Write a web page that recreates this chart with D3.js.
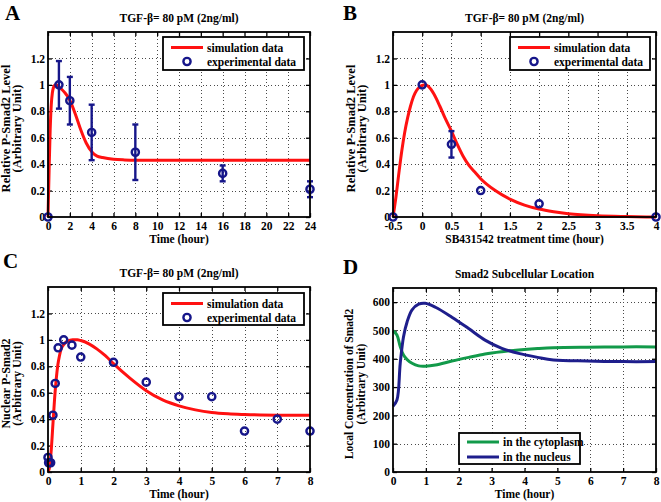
<!DOCTYPE html>
<html><head><meta charset="utf-8">
<script src="https://cdn.jsdelivr.net/npm/d3@7/dist/d3.min.js"></script>
<style>
html,body{margin:0;padding:0;background:#fff;}
svg{display:block;font-family:"Liberation Serif","Times New Roman",Times,serif;font-weight:bold;}
</style></head>
<body><svg id="chart" width="661" height="502"></svg>
<script>
// ---------- DATA ----------
// Panel A
const aSimTime  = [0,0.1,0.2,0.3,0.4,0.5,0.6,0.75,1,1.5,2,2.5,3,3.5,4,4.5,5,6,7,8,12,24];
const aSimValue = [0,0.35,0.66,0.85,0.94,0.98,0.995,1.0,0.985,0.945,0.885,0.78,0.66,0.56,0.495,0.46,0.45,0.437,0.432,0.43,0.43,0.43];
const aExpTime  = [0,1,2,4,8,16,24];
const aExpValue = [0,1.0,0.88,0.64,0.49,0.33,0.21];
const aExpLow   = [null,0.82,0.70,0.43,0.28,0.27,0.15];
const aExpHigh  = [null,1.18,1.06,0.85,0.70,0.39,0.27];
const aXTicks = [0,2,4,6,8,10,12,14,16,18,20,22,24];
const aYTicks = [0,0.2,0.4,0.6,0.8,1,1.2];
// Panel B
const bSimTime  = [-0.5,-0.45,-0.4,-0.35,-0.3,-0.25,-0.2,-0.15,-0.1,-0.05,0,0.05,0.1,0.15,0.2,0.3,0.4,0.5,0.6,0.7,0.8,0.9,1.0,1.25,1.5,1.75,2,2.25,2.5,3,3.5,4];
const bSimValue = [0,0.15,0.33,0.5,0.64,0.75,0.84,0.91,0.955,0.982,0.996,1.0,0.99,0.965,0.93,0.84,0.74,0.65,0.55,0.46,0.39,0.34,0.29,0.2,0.135,0.09,0.06,0.04,0.025,0.009,0.003,0];
const bExpTime  = [-0.5,0,0.5,1,2,4];
const bExpValue = [0,1.0,0.55,0.2,0.1,0];
const bExpLow   = [null,null,0.45,null,null,null];
const bExpHigh  = [null,null,0.65,null,null,null];
const bXTicks = [-0.5,0,0.5,1,1.5,2,2.5,3,3.5,4];
const bYTicks = [0,0.2,0.4,0.6,0.8,1,1.2];
// Panel C
const cSimTime  = [0,0.05,0.1,0.15,0.2,0.25,0.3,0.35,0.4,0.5,0.6,0.75,0.9,1.0,1.25,1.5,1.75,2,2.5,3,3.5,4,4.5,5,5.5,6,7,8];
const cSimValue = [0,0.04,0.17,0.36,0.55,0.70,0.81,0.88,0.93,0.97,0.99,1.0,1.0,0.995,0.97,0.93,0.88,0.82,0.71,0.615,0.545,0.5,0.47,0.45,0.44,0.435,0.43,0.43];
const cExpTime  = [0,0.02,0.08,0.15,0.22,0.31,0.48,0.73,1,2,3,4,5,6,7,8];
const cExpValue = [0.11,0.07,0.07,0.43,0.67,0.94,1.0,0.96,0.87,0.83,0.68,0.57,0.57,0.31,0.40,0.31];
const cXTicks = [0,1,2,3,4,5,6,7,8];
const cYTicks = [0,0.2,0.4,0.6,0.8,1,1.2];
// Panel D
const dTime      = [0,0.12,0.22,0.32,0.43,0.58,0.78,0.98,1.29,1.79,2.3,2.8,3.31,3.82,4.4,4.88,5.9,7,8];
const dNucleus   = [232,254,384,478,531,573,593,596,582,547,507,466,437,419,405,396,392,390,390];
const dCytoplasm = [499,484,443,413,397,384,375,374,378,392,405,417,425,431,436,439,441,442,442];
const dXTicks = [0,1,2,3,4,5,6,7,8];
const dYTicks = [0,100,200,300,400,500,600];

// ---------- STYLE ----------
const RED = "#ff1111", NAVY = "#16168a", GREEN = "#129a4a", LINEBLUE = "#1e1e8c";
const FONT = "'Liberation Serif','Times New Roman',Times,serif";
const svg = d3.select("#chart");

function zip(xs, ys){ return xs.map((x,i)=>[x, ys[i]]); }

function panel(cfg){
  const g = svg.append("g");
  const x = d3.scaleLinear().domain(cfg.xDomain).range([cfg.left, cfg.right]);
  const y = d3.scaleLinear().domain(cfg.yDomain).range([cfg.bottom, cfg.top]);
  const fmt = d => String(+d.toFixed(3));

  // grid
  const gridStyle = s => s.attr("stroke","#4a4a4a").attr("stroke-width",1).attr("stroke-dasharray","1,2.6").attr("shape-rendering","crispEdges");
  g.selectAll(".vg").data(cfg.xTicks.filter(t => x(t) > cfg.left+1 && x(t) < cfg.right-1)).join("line")
    .attr("x1", d=>Math.round(x(d))+0.5).attr("x2", d=>Math.round(x(d))+0.5).attr("y1", cfg.top).attr("y2", cfg.bottom).call(gridStyle);
  g.selectAll(".hg").data(cfg.yTicks.filter(t => y(t) < cfg.bottom-1 && y(t) > cfg.top+1)).join("line")
    .attr("y1", d=>Math.round(y(d))+0.5).attr("y2", d=>Math.round(y(d))+0.5).attr("x1", cfg.left).attr("x2", cfg.right).call(gridStyle);

  // axes (inward ticks, all four sides)
  const axStyle = a => { a.attr("font-family", FONT); a.select(".domain").remove(); a.selectAll("line").attr("stroke","#000").attr("stroke-width",1.3);
                         a.selectAll("text").attr("fill","#000").attr("font-size", 11.5).attr("font-weight","bold").attr("font-family", FONT); };
  g.append("g").attr("transform",`translate(0,${cfg.bottom})`)
    .call(d3.axisBottom(x).tickValues(cfg.xTicks).tickFormat(fmt).tickSize(-4).tickPadding(5)).call(axStyle);
  g.append("g").attr("transform",`translate(0,${cfg.top})`)
    .call(d3.axisTop(x).tickValues(cfg.xTicks).tickFormat("").tickSize(-4)).call(axStyle);
  g.append("g").attr("transform",`translate(${cfg.left},0)`)
    .call(d3.axisLeft(y).tickValues(cfg.yTicks).tickFormat(fmt).tickSize(-4).tickPadding(3)).call(axStyle);
  g.append("g").attr("transform",`translate(${cfg.right},0)`)
    .call(d3.axisRight(y).tickValues(cfg.yTicks).tickFormat("").tickSize(-4)).call(axStyle);

  (cfg.lines||[]).forEach(L => {
    const line = d3.line().x(d=>x(d[0])).y(d=>y(d[1])).curve(L.smooth ? d3.curveCatmullRom.alpha(0.5) : d3.curveMonotoneX);
    g.append("path").datum(zip(L.xs, L.ys)).attr("d", line).attr("fill","none")
      .attr("stroke", L.color).attr("stroke-width", 3).attr("stroke-linejoin","round");
  });

  if (cfg.exp){
    const E = cfg.exp;
    const pts = E.xs.map((t,i)=>({t, v:E.ys[i], lo:E.lo?E.lo[i]:null, hi:E.hi?E.hi[i]:null}));
    const eb = pts.filter(p => p.lo != null);
    const eg = g.append("g").attr("stroke", NAVY).attr("stroke-width", 2.4).attr("fill","none");
    eg.selectAll(".ebv").data(eb).join("line")
      .attr("x1", p=>x(p.t)).attr("x2", p=>x(p.t)).attr("y1", p=>y(p.lo)).attr("y2", p=>y(p.hi));
    eg.selectAll(".ebl").data(eb).join("line")
      .attr("x1", p=>x(p.t)-3).attr("x2", p=>x(p.t)+3).attr("y1", p=>y(p.lo)).attr("y2", p=>y(p.lo));
    eg.selectAll(".ebh").data(eb).join("line")
      .attr("x1", p=>x(p.t)-3).attr("x2", p=>x(p.t)+3).attr("y1", p=>y(p.hi)).attr("y2", p=>y(p.hi));
    g.append("g").selectAll("circle").data(pts).join("circle")
      .attr("cx", p=>x(p.t)).attr("cy", p=>y(p.v)).attr("r", 3.6)
      .attr("fill","none").attr("stroke", NAVY).attr("stroke-width", 2.4);
  }

  // frame
  g.append("rect").attr("x", cfg.left).attr("y", cfg.top).attr("width", cfg.right-cfg.left).attr("height", cfg.bottom-cfg.top)
    .attr("fill","none").attr("stroke","#000").attr("stroke-width",1.8);

  // title, labels
  g.append("text").attr("x", (cfg.left+cfg.right)/2).attr("y", cfg.top-10).attr("text-anchor","middle")
    .attr("font-size", 11.5).text(cfg.title);
  g.append("text").attr("x", (cfg.left+cfg.right)/2).attr("y", cfg.bottom+26).attr("text-anchor","middle")
    .attr("font-size", 11.5).text(cfg.xLabel);
  const cy = (cfg.top+cfg.bottom)/2 + 4;
  cfg.yLabel.forEach((s,i) => {
    const bx = cfg.left - cfg.yLabelOff[i];
    g.append("text").attr("transform", `translate(${bx},${cy}) rotate(-90)`).attr("text-anchor","middle")
      .attr("font-size", cfg.yLabelSize).text(s);
  });
  g.append("text").attr("x", cfg.letterPos[0]).attr("y", cfg.letterPos[1]).attr("font-size", 21).text(cfg.letter);

  // legend
  if (cfg.legend){
    const Lg = cfg.legend;
    const lg = g.append("g");
    lg.append("rect").attr("x", Lg.x).attr("y", Lg.y).attr("width", Lg.w).attr("height", Lg.h)
      .attr("fill","#fff").attr("stroke","#000").attr("stroke-width",1.8);
    Lg.items.forEach((it, i) => {
      const ry = Lg.y + Lg.rows[i];
      if (it.type === "line"){
        lg.append("line").attr("x1", Lg.x+8).attr("x2", Lg.x+40).attr("y1", ry).attr("y2", ry)
          .attr("stroke", it.color).attr("stroke-width", 3);
      } else {
        lg.append("circle").attr("cx", Lg.x+24).attr("cy", ry).attr("r", 3.6)
          .attr("fill","none").attr("stroke", it.color).attr("stroke-width", 2.4);
      }
      lg.append("text").attr("x", Lg.x+44).attr("y", ry+4).attr("font-size", 11.5).text(it.label);
    });
  }
}

const title = "TGF-\u03B2= 80 pM (2ng/ml)";

panel({letter:"A", letterPos:[5,20], left:48, right:310, top:32, bottom:217,
  xDomain:[0,24], yDomain:[0,1.4], xTicks:aXTicks, yTicks:aYTicks,
  title, xLabel:"Time (hour)", yLabel:["Relative P-Smad2 Level","(Arbitrary Unit)"], yLabelOff:[38,27], yLabelSize:12.5,
  lines:[{xs:aSimTime, ys:aSimValue, color:RED}],
  exp:{xs:aExpTime, ys:aExpValue, lo:aExpLow, hi:aExpHigh},
  legend:{x:163, y:37, w:141, h:33, rows:[10.5,24.5],
    items:[{type:"line", color:RED, label:"simulation data"},{type:"marker", color:NAVY, label:"experimental data"}]}
});

panel({letter:"B", letterPos:[343,20], left:393, right:656, top:32, bottom:217,
  xDomain:[-0.5,4], yDomain:[0,1.4], xTicks:bXTicks, yTicks:bYTicks,
  title, xLabel:"SB431542 treatment time (hour)", yLabel:["Relative P-Smad2 Level","(Arbitrary Unit)"], yLabelOff:[38,27], yLabelSize:12.5,
  lines:[{xs:bSimTime, ys:bSimValue, color:RED}],
  exp:{xs:bExpTime, ys:bExpValue, lo:bExpLow, hi:bExpHigh},
  legend:{x:510, y:37, w:140, h:33, rows:[10.5,24.5],
    items:[{type:"line", color:RED, label:"simulation data"},{type:"marker", color:NAVY, label:"experimental data"}]}
});

panel({letter:"C", letterPos:[3,268], left:48, right:310, top:287, bottom:472,
  xDomain:[0,8], yDomain:[0,1.4], xTicks:cXTicks, yTicks:cYTicks,
  title, xLabel:"Time (hour)", yLabel:["Nuclear P-Smad2","(Arbitrary Unit)"], yLabelOff:[38,27], yLabelSize:12,
  lines:[{xs:cSimTime, ys:cSimValue, color:RED}],
  exp:{xs:cExpTime, ys:cExpValue},
  legend:{x:163, y:293, w:141, h:32, rows:[10.5,24.5],
    items:[{type:"line", color:RED, label:"simulation data"},{type:"marker", color:NAVY, label:"experimental data"}]}
});

panel({letter:"D", letterPos:[343,274], left:393, right:656, top:288, bottom:472,
  xDomain:[0,8], yDomain:[0,650], xTicks:dXTicks, yTicks:dYTicks,
  title:"Smad2 Subcellular Location", xLabel:"Time (hour)", yLabel:["Local Concentration of Smad2","(Arbitrary Unit)"], yLabelOff:[40,28], yLabelSize:11.5,
  lines:[{xs:dTime, ys:dCytoplasm, color:GREEN, smooth:true},{xs:dTime, ys:dNucleus, color:LINEBLUE, smooth:true}],
  legend:{x:459, y:433, w:121, h:31, rows:[9,24],
    items:[{type:"line", color:GREEN, label:"in the cytoplasm"},{type:"line", color:LINEBLUE, label:"in the nucleus"}]}
});
</script>
</body></html>
